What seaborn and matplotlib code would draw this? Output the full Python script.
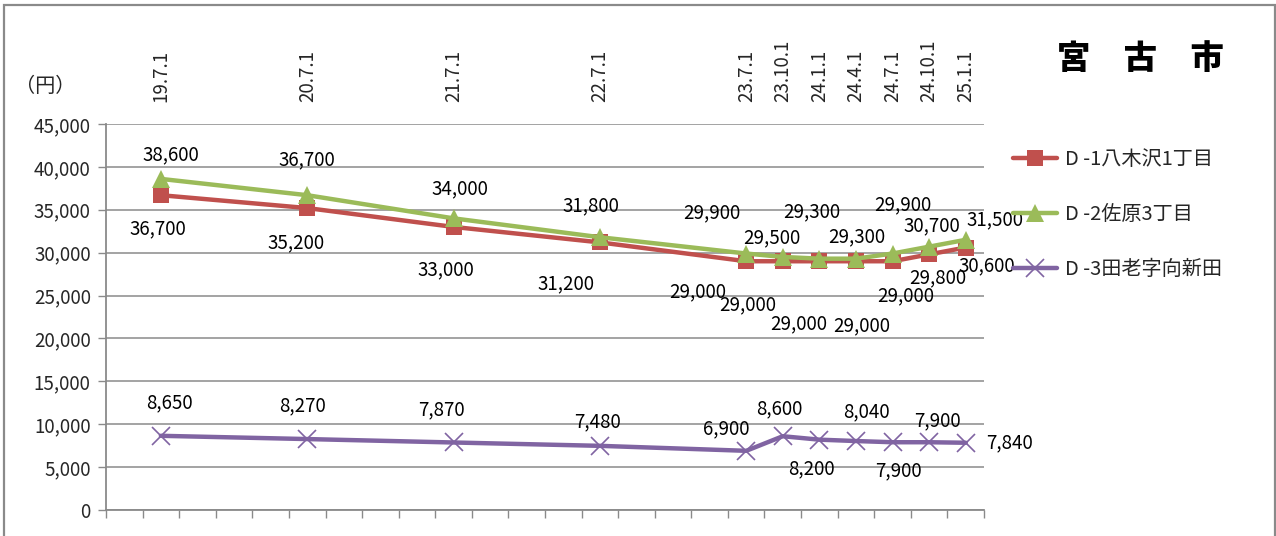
import numpy as np
import pandas as pd
import matplotlib
matplotlib.use("Agg")
import matplotlib.pyplot as plt
import seaborn as sns
from matplotlib.patches import Rectangle
from matplotlib.ticker import FuncFormatter, FixedLocator

# 調査時点（平成 年.月.日）
dates = ['19.7.1', '20.7.1', '21.7.1', '22.7.1', '23.7.1', '23.10.1',
         '24.1.1', '24.4.1', '24.7.1', '24.10.1', '25.1.1']
d1 = [36700, 35200, 33000, 31200, 29000, 29000, 29000, 29000, 29000, 29800, 30600]
d2 = [38600, 36700, 34000, 31800, 29900, 29500, 29300, 29300, 29900, 30700, 31500]
d3 = [8650, 8270, 7870, 7480, 6900, 8600, 8200, 8040, 7900, 7900, 7840]
names = ['D -1八木沢1丁目', 'D -2佐原3丁目', 'D -3田老字向新田']

# ラベル位置の調整（ピクセル, 右・上が正）
off1 = [(-3, -34), (-11, -35), (-8, -43), (-34, -41), (-49, -31), (-35, -44),
        (-21, -63), (6, -65), (13, -35), (9, -23), (21, -18)]
off2 = [(10, 24), (0, 35), (6, 30), (-9, 31), (-34, 41), (-11, 19),
        (-8, 47), (1, 22), (10, 49), (3, 21), (29, 20)]
off3 = [(9, 33), (-5, 33), (-12, 33), (-2, 24), (-20, 22), (-3, 27),
        (-8, -29), (10, 29), (6, -29), (8, 21), (44, 0)]


def quarter_pos(s):
    '''19.4.1 を 0 とした四半期の位置'''
    y, m, _ = [int(v) for v in s.split('.')]
    return (y - 19) * 4 + (m - 4) // 3


xpos = [quarter_pos(s) for s in dates]

sns.set_theme(style='white')
plt.rcParams['font.family'] = ['Noto Sans CJK JP', 'DejaVu Sans']
plt.rcParams['axes.unicode_minus'] = False

fig = plt.figure(figsize=(12.76, 5.36), dpi=100)
ax = fig.add_axes([106 / 1276, 26 / 536, 878 / 1276, 386 / 536])

colors = ['#C0504D', '#9BBB59', '#8064A2']
markers = ['s', '^', 'x']
msizes = [12, 13, 13]
series = [d1, d2, d3]
offsets = [off1, off2, off3]

for vals, name, c, mk, ms in zip(series, names, colors, markers, msizes):
    df = pd.DataFrame({'x': xpos, 'y': vals})
    sns.lineplot(data=df, x='x', y='y', ax=ax, color=c, linewidth=3.2,
                 marker=mk, markersize=ms, markeredgecolor=c,
                 markeredgewidth=1.2 if mk == 'x' else 0, label=name)

fs = 13.5
for vals, offs in zip(series, offsets):
    for x, v, (dx, dy) in zip(xpos, vals, offs):
        ax.annotate(f'{v:,}', (x, v), xytext=(dx, dy), textcoords='offset pixels',
                    ha='center', va='center', fontsize=fs, color='black')

ax.set_xlim(-0.5, 23.5)
ax.set_ylim(0, 45000)
ax.set_yticks(np.arange(0, 45001, 5000))
ax.yaxis.set_major_formatter(FuncFormatter(lambda v, p: f'{int(v):,}'))
ax.grid(axis='y', color='#8a8a8a', linewidth=1.1)
ax.grid(axis='x', visible=False)
ax.set_axisbelow(True)

ax.set_xticks(xpos)
ax.set_xticklabels(dates)
ax.xaxis.set_minor_locator(FixedLocator(np.arange(-0.5, 24, 1)))
ax.tick_params(axis='x', which='major', bottom=False, top=False,
               labelbottom=False, labeltop=True, labelrotation=90, pad=10,
               labelsize=fs)
ax.tick_params(axis='x', which='minor', bottom=True, length=6, width=1,
               color='#8a8a8a', direction='out')
ax.tick_params(axis='y', left=True, length=6, width=1, color='#8a8a8a',
               direction='out', labelsize=fs, pad=5)
ax.set_xlabel('')
ax.set_ylabel('')

for side in ['top', 'right']:
    ax.spines[side].set_visible(False)
for side in ['left', 'bottom']:
    ax.spines[side].set_color('#8a8a8a')
    ax.spines[side].set_linewidth(1.3)

ax.legend(loc='upper left', bbox_to_anchor=(1013 / 1276, 1 - 149 / 536),
          bbox_transform=fig.transFigure, frameon=False, fontsize=14.5,
          handlelength=2.2, handletextpad=0.4, labelspacing=1.7,
          borderpad=0, borderaxespad=0)

fig.text(45 / 1276, 1 - 86 / 536, '（円）', ha='center', va='center', fontsize=14.5)
fig.text(1140 / 1276, 1 - 58 / 536, '宮　古　市', ha='center', va='center',
         fontsize=24, fontweight='heavy', color='black')

fig.patches.append(Rectangle((3.5 / 1276, -0.05), 1271 / 1276, 1.05 - 5 / 536,
                             transform=fig.transFigure, fill=False,
                             edgecolor='#8a8a8a', linewidth=1.6))

fig.savefig('out.png', dpi=100)
